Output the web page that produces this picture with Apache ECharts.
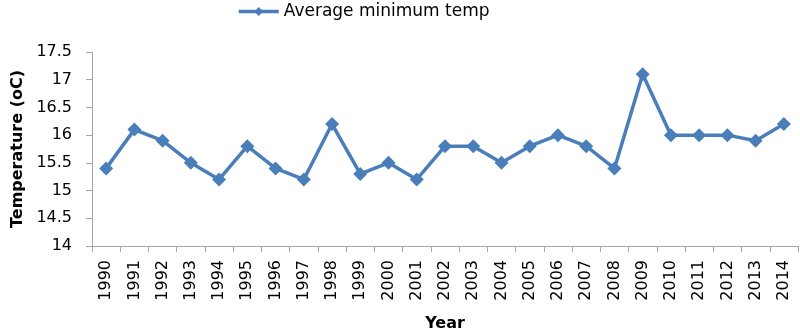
<!DOCTYPE html>
<html><head><meta charset="utf-8">
<script src="https://cdn.jsdelivr.net/npm/echarts@6/dist/echarts.min.js"></script>
<style>html,body{margin:0;padding:0;background:#fff}#c{width:800px;height:334px}</style>
</head><body><div id="c"></div>
<script>
const years = ['1990','1991','1992','1993','1994','1995','1996','1997','1998','1999','2000','2001','2002','2003','2004','2005','2006','2007','2008','2009','2010','2011','2012','2013','2014'];
const avgMinTemp = [15.4,16.1,15.9,15.5,15.2,15.8,15.4,15.2,16.2,15.3,15.5,15.2,15.8,15.8,15.5,15.8,16.0,15.8,15.4,17.1,16.0,16.0,16.0,15.9,16.2];
const seriesName = 'Average minimum temp';
const font = 'DejaVu Sans';
const chart = echarts.init(document.getElementById('c'));
chart.setOption({
  animation:false,
  textStyle:{fontFamily:font},
  legend:{top:-2,left:232,itemWidth:40,itemHeight:11,itemGap:3,
    lineStyle:{width:3.5},
    textStyle:{fontSize:17,color:'#000',fontFamily:font},data:[seriesName]},
  grid:{left:92,right:2,top:52,bottom:88,outerBoundsMode:'none',containLabel:false},
  xAxis:{type:'category',data:years,boundaryGap:true,
    axisLine:{lineStyle:{color:'#a6a6a6',width:1}},
    axisTick:{show:true,length:6,interval:0,lineStyle:{color:'#a6a6a6'}},
    axisLabel:{rotate:90,interval:0,fontSize:16,color:'#000',margin:14,fontFamily:font},
    name:'Year',nameLocation:'middle',nameGap:70,
    nameTextStyle:{fontSize:16,fontWeight:'bold',color:'#000',fontFamily:font}},
  yAxis:{type:'value',min:14,max:17.5,interval:0.5,
    axisLine:{show:true,lineStyle:{color:'#a6a6a6'}},
    axisTick:{show:true,length:6,inside:false,lineStyle:{color:'#a6a6a6'}},
    splitLine:{show:false},
    axisLabel:{fontSize:16,color:'#000',margin:20,fontFamily:font},
    name:'Temperature (oC)',nameLocation:'middle',nameGap:66,nameRotate:90,
    nameTextStyle:{fontSize:16,fontWeight:'bold',color:'#000',fontFamily:font}},
  series:[{name:seriesName,type:'line',data:avgMinTemp,symbol:'diamond',symbolSize:14,
    lineStyle:{color:'#4a7ebb',width:3.5},itemStyle:{color:'#4a7ebb'}}]
});
</script></body></html>
